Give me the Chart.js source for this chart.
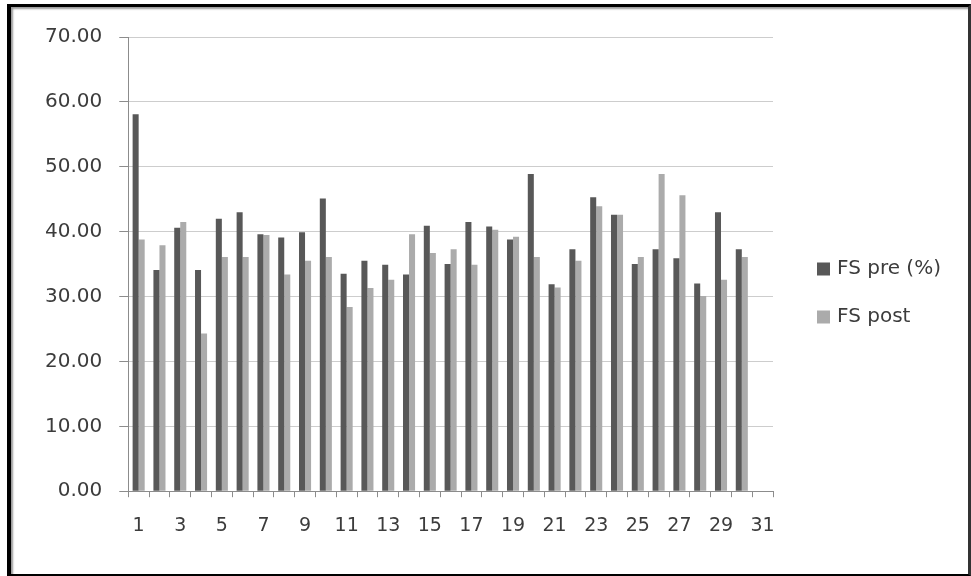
<!DOCTYPE html>
<html>
<head>
<meta charset="utf-8">
<script src="https://cdn.jsdelivr.net/npm/chart.js@4"></script>
<style>
  html, body { margin: 0; padding: 0; background: #fff; }
  #wrap { position: relative; width: 971px; height: 576px; overflow: hidden; background: #fff; }
  #c { position: absolute; left: 0; top: 0; }
  #frame {
    position: absolute; left: 7px; top: 4px; right: 0; bottom: 0;
    box-sizing: border-box;
    border-left: 4px solid #000; border-top: 3px solid #000;
    border-bottom: 2px solid #000; border-right: 3px solid #333;
    box-shadow: inset 2px 2px 2px #9a9a9a;
    pointer-events: none;
  }
</style>
</head>
<body>
<div id="wrap">
  <canvas id="c" width="971" height="576"></canvas>
  <div id="frame"></div>
</div>
<script>
// Subject numbers along the x axis
const categories = ['1','2','3','4','5','6','7','8','9','10','11','12','13','14','15','16',
                    '17','18','19','20','21','22','23','24','25','26','27','28','29','30','31'];

// FS before (%)
const fsPre = [58.1, 34.1, 40.6, 34.1, 42.0, 43.0, 39.6, 39.1, 39.9, 45.1,
               33.5, 35.5, 34.9, 33.4, 40.9, 35.0, 41.5, 40.8, 38.8, 48.9,
               31.9, 37.3, 45.3, 42.6, 35.0, 37.3, 35.9, 32.0, 43.0, 37.3, null];

// FS after
const fsPost = [38.8, 37.9, 41.5, 24.3, 36.1, 36.1, 39.5, 33.4, 35.5, 36.1,
                28.4, 31.3, 32.6, 39.6, 36.7, 37.3, 34.9, 40.3, 39.2, 36.1,
                31.4, 35.5, 43.9, 42.6, 36.1, 48.9, 45.6, 30.1, 32.6, 36.1, null];

const seriesNames = ['FS pre (%)', 'FS post'];
const yMin = 0, yMax = 70, yStep = 10;

const FONT = '"DejaVu Sans", "Liberation Sans", sans-serif';
const TEXT = '#3c3c3c';
const AXIS = '#8c8c8c';

// Legend drawn beside the plot, one swatch + name per dataset
const sideLegend = {
  id: 'sideLegend',
  afterDraw(chart, args, opts) {
    const ctx = chart.ctx;
    ctx.save();
    ctx.font = opts.fontSize + 'px ' + FONT;
    ctx.textBaseline = 'middle';
    ctx.textAlign = 'left';
    chart.data.datasets.forEach((ds, i) => {
      const y = opts.top + i * opts.gap;
      ctx.fillStyle = ds.backgroundColor;
      ctx.fillRect(opts.left, y - opts.box / 2, opts.box, opts.box);
      ctx.fillStyle = TEXT;
      ctx.fillText(ds.label, opts.left + opts.box + opts.textGap, y);
    });
    ctx.restore();
  }
};

new Chart(document.getElementById('c'), {
  type: 'bar',
  data: {
    labels: categories,
    datasets: [
      { label: seriesNames[0], data: fsPre,  backgroundColor: '#585858' },
      { label: seriesNames[1], data: fsPost, backgroundColor: '#ababab' }
    ]
  },
  plugins: [sideLegend],
  options: {
    responsive: false,
    devicePixelRatio: 1,
    animation: false,
    layout: { padding: { left: 28, top: 37, right: 198, bottom: 22 } },
    datasets: { bar: { categoryPercentage: 0.58, barPercentage: 1.0 } },
    plugins: {
      legend: { display: false },
      tooltip: { enabled: false },
      sideLegend: { left: 817, top: 269, gap: 48, box: 13, textGap: 7, fontSize: 20 }
    },
    scales: {
      x: {
        offset: true,
        grid: { offset: true, drawOnChartArea: false, drawTicks: true, tickLength: 6, tickColor: AXIS },
        border: { display: true, color: AXIS, width: 1 },
        ticks: {
          autoSkip: false, maxRotation: 0, padding: 17,
          color: TEXT, font: { family: FONT, size: 19 },
          callback: function (v, i) { return i % 2 === 0 ? categories[i] : ''; }
        }
      },
      y: {
        min: yMin, max: yMax,
        grid: { color: '#cdcdcd', lineWidth: 1, drawTicks: true, tickLength: 9, tickColor: AXIS },
        border: { display: true, color: AXIS, width: 1 },
        ticks: {
          stepSize: yStep, padding: 17,
          color: TEXT, font: { family: FONT, size: 20 },
          callback: v => Number(v).toFixed(2)
        }
      }
    }
  }
});
</script>
</body>
</html>
